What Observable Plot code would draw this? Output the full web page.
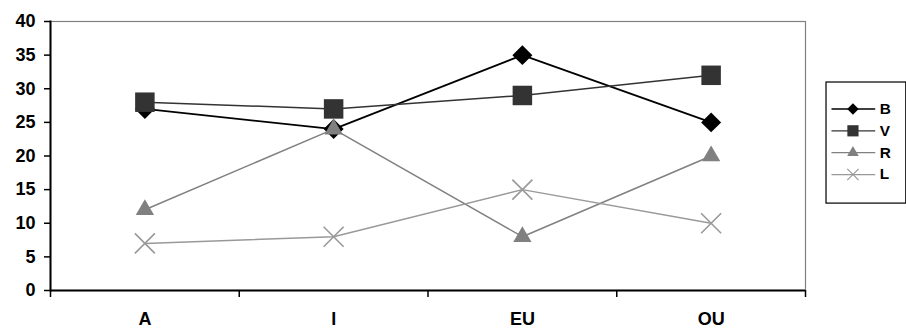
<!DOCTYPE html>
<html>
<head>
<meta charset="utf-8">
<script src="https://cdn.jsdelivr.net/npm/d3@7"></script>
<script src="https://cdn.jsdelivr.net/npm/@observablehq/plot@0.6"></script>
<style>
  html, body { margin: 0; padding: 0; background: #fff; }
  #wrap { position: relative; width: 906px; height: 328px; overflow: hidden; font-family: "Liberation Sans", Arial, sans-serif; }
  #legend { position: absolute; left: 825px; top: 81px; }
  #chart { position: absolute; left: 0; top: 0; }
</style>
</head>
<body>
<div id="wrap"><div id="chart"></div><div id="legend"></div></div>
<script>
const categories = ["A", "I", "EU", "OU"];
const seriesNames = ["B", "V", "R", "L"];
const bValues = [27, 24, 35, 25];
const vValues = [28, 27, 29, 32];
const rValues = [12, 24, 8, 20];
const lValues = [7, 8, 15, 10];
const yTicks = [0, 5, 10, 15, 20, 25, 30, 35, 40];

const seriesValues = { B: bValues, V: vValues, R: rValues, L: lValues };
const styles = {
  B: { line: "#000000", mark: "#000000", symbol: "diamond2", r: 9.0, lr: 6.4, w: 1.8 },
  V: { line: "#333333", mark: "#333333", symbol: "square", r: 11.0, lr: 7.8, w: 1.5 },
  R: { line: "#808080", mark: "#808080", symbol: "triangle", r: 6.8, lr: 5.3, w: 1.5 },
  L: { line: "#999999", mark: "#999999", symbol: "times", r: 9.15, lr: 6.4, w: 1.5 }
};

const rows = seriesNames.flatMap(s => seriesValues[s].map((v, i) => ({ series: s, pos: i + 0.5, value: v })));

const marks = [
  Plot.frame({ stroke: "#808080", strokeWidth: 1.2 }),
  Plot.axisY({ ticks: yTicks, tickSize: 6, tickPadding: 9, fontSize: 18, fontWeight: "bold", strokeWidth: 1.5, label: null }),
  Plot.axisX({ ticks: [0, 1, 2, 3, 4], tickFormat: () => "", tickSize: 7, strokeWidth: 1.5, label: null }),
  Plot.axisX({ ticks: categories.map((c, i) => i + 0.5), tickFormat: d => categories[Math.round(d - 0.5)], tickSize: 0, tickPadding: 22, fontSize: 18, fontWeight: "bold", label: null }),
  Plot.ruleY([0], { stroke: "black", strokeWidth: 2 }),
  Plot.frame({ anchor: "left", stroke: "black", strokeWidth: 2 })
];
for (const s of seriesNames) {
  const d = rows.filter(r => r.series === s);
  const st = styles[s];
  marks.push(Plot.line(d, { x: "pos", y: "value", stroke: st.line, strokeWidth: st.w }));
}
for (const s of seriesNames) {
  const d = rows.filter(r => r.series === s);
  const st = styles[s];
  if (st.symbol === "times") {
    marks.push(Plot.dot(d, { x: "pos", y: "value", symbol: () => st.symbol, r: st.r, stroke: st.mark, strokeWidth: 1.6, fill: "none" }));
  } else {
    marks.push(Plot.dot(d, { x: "pos", y: "value", symbol: () => st.symbol, r: st.r, fill: st.mark, stroke: "none" }));
  }
}

const chart = Plot.plot({
  width: 906, height: 328,
  marginLeft: 50, marginRight: 101, marginTop: 21, marginBottom: 38,
  style: { fontFamily: "'Liberation Sans', Arial, sans-serif", color: "black", background: "transparent" },
  x: { domain: [0, 4] },
  y: { domain: [0, 40] },
  symbol: { type: "identity" },
  marks
});
document.getElementById("chart").appendChild(chart);

// Legend
const legendRows = seriesNames.map(s => ({ series: s }));
const lmarks = [
  Plot.frame({ stroke: "black", strokeWidth: 1.5, inset: 0.75 })
];
for (const s of seriesNames) {
  const st = styles[s];
  const d = legendRows.filter(r => r.series === s);
  lmarks.push(Plot.ruleY(d, { y: "series", x1: 8, x2: 62, stroke: st.line, strokeWidth: st.w }));
  if (st.symbol === "times") {
    lmarks.push(Plot.dot(d, { x: 34, y: "series", symbol: () => st.symbol, r: st.lr, stroke: st.mark, strokeWidth: 1.4, fill: "none" }));
  } else {
    lmarks.push(Plot.dot(d, { x: 34, y: "series", symbol: () => st.symbol, r: st.lr, fill: st.mark, stroke: "none" }));
  }
}
lmarks.push(Plot.text(legendRows, { x: 67, y: "series", text: "series", textAnchor: "start", fontSize: 19, fontWeight: "bold", fill: "black" }));

const legend = Plot.plot({
  width: 100, height: 151,
  marginLeft: 0, marginRight: 0, marginTop: 0, marginBottom: 0,
  style: { fontFamily: "'Liberation Sans', Arial, sans-serif", color: "black", background: "transparent", overflow: "visible" },
  x: { domain: [0, 100], range: [0, 100], axis: null },
  y: { type: "point", domain: seriesNames, range: [19, 130], axis: null },
  symbol: { type: "identity" },
  marks: lmarks
});
document.getElementById("legend").appendChild(legend);
</script>
</body>
</html>
